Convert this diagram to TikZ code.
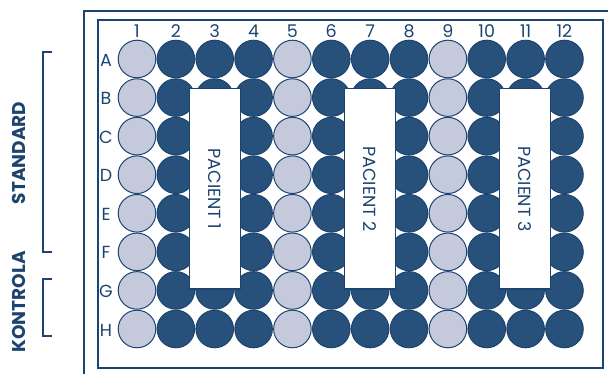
\documentclass[tikz,border=0pt]{standalone}
\usepackage{fontspec}
\setmainfont{Poppins}
\begin{document}
\begin{tikzpicture}[x=1pt,y=-1pt,
  dark/.style={circle,draw=wellline,fill=welldark,line width=1pt,minimum size=37.6pt,inner sep=0pt},
  light/.style={circle,draw=wellline,fill=welllight,line width=1pt,minimum size=37.6pt,inner sep=0pt},
  lab/.style={text=wellline,font=\fontsize{17.5}{17.5}\selectfont,inner sep=0pt},
  pbox/.style={draw=wellline,fill=white,line width=1pt,minimum width=51pt,minimum height=200pt,inner sep=0pt},
  ptext/.style={text=wellline,font=\fontsize{17.5}{17.5}\selectfont,rotate=-90},
  side/.style={text=wellline,font=\bfseries\fontsize{18.5}{18.5}\selectfont,rotate=90},
  brk/.style={draw=wellline,line width=1.2pt}]
\definecolor{welldark}{HTML}{27507A}
\definecolor{welllight}{HTML}{C4CADB}
\definecolor{wellline}{HTML}{1D4470}
\useasboundingbox (0,0) rectangle (608,374);
% outer frame
\draw[wellline,line width=1.8pt] (608,11) -- (84,11) -- (84,374);
% inner frame
\draw[wellline,line width=1.5pt] (98,20) rectangle (603,368);
% wells
\foreach \r [count=\i from 0] in {A,B,C,D,E,F,G,H} {
  \node[lab] (row\r) at (106,{60+\i*38.57}) {\r};
  \foreach \c in {1,...,12} {
    \pgfmathtruncatemacro{\m}{mod(\c-1,4)}
    \ifnum\m=0
      \node[light] (w\r\c) at ({137+(\c-1)*38.86},{59+\i*38.57}) {};
    \else
      \node[dark] (w\r\c) at ({137+(\c-1)*38.86},{59+\i*38.57}) {};
    \fi
  }
}
\foreach \c in {1,...,12} {
  \node[lab] (col\c) at ({137+(\c-1)*38.86},31) {\c};
}
% patient boxes
\node[pbox] (p1) at (214.5,189) {};
\node[ptext] (t1) at (p1.center) {PACIENT 1};
\node[pbox] (p2) at (370,189) {};
\node[ptext] (t2) at (p2.center) {PACIENT 2};
\node[pbox] (p3) at (525,189) {};
\node[ptext] (t3) at (p3.center) {PACIENT 3};
% brackets
\draw[brk] (52,52) -- (43,52) -- (43,252) -- (52,252);
\draw[brk] (52,279) -- (43,279) -- (43,336) -- (52,336);
\node[side] (std) at (19,153) {STANDARD};
\node[side] (ktr) at (19,302) {KONTROLA};
\end{tikzpicture}
\end{document}
